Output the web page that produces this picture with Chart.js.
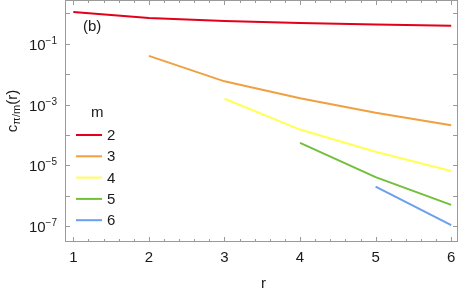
<!DOCTYPE html>
<html>
<head>
<meta charset="utf-8">
<script src="https://cdn.jsdelivr.net/npm/chart.js@4.4.1/dist/chart.umd.min.js"></script>
<style>
  html, body { margin: 0; padding: 0; background: #fff; }
  #wrap { width: 463px; height: 292px; }
</style>
</head>
<body>
<div id="wrap"><canvas id="chart" width="463" height="292"></canvas></div>
<script>
"use strict";

// --- Data ---
const mLabels = ['2', '3', '4', '5', '6'];
const rValues = [1, 2, 3, 4, 5, 6];
const seriesM2 = [1.1, 0.71, 0.56, 0.48, 0.43, 0.39];          // r = 1..6
const seriesM3 = [0.04, 0.0058, 0.0016, 5.4e-4, 2.1e-4];        // r = 2..6
const seriesM4 = [1.55e-3, 1.5e-4, 2.8e-5, 6.5e-6];             // r = 3..6
const seriesM5 = [5.5e-5, 4.1e-6, 5.0e-7];                      // r = 4..6
const seriesM6 = [2.0e-6, 1.07e-7];                             // r = 5..6
const xTicks = [1, 2, 3, 4, 5, 6];
const yDecades = [0, -1, -2, -3, -4, -5, -6, -7];
const yLabelled = [-1, -3, -5, -7];

const colors = ['#e2001a', '#f0a040', '#ffff55', '#72bf3a', '#6a9ff0'];
const FONT = '"Liberation Sans", Arial, sans-serif';
const TEXT = '#1a1a1a';

// pair each series with the r values it covers (all end at r = 6)
function toPoints(values) {
    const start = rValues.length - values.length;
    return values.map((v, i) => ({ x: rValues[start + i], y: v }));
}
const allSeries = [seriesM2, seriesM3, seriesM4, seriesM5, seriesM6];

// --- Custom drawing: frame, inward ticks, log labels, legend, annotations ---
const decorPlugin = {
    id: 'decor',
    afterDraw(chart) {
        const { ctx, chartArea: a, scales } = chart;
        const xs = scales.x, ys = scales.y;
        ctx.save();

        // frame
        ctx.strokeStyle = '#9a9a9a';
        ctx.lineWidth = 1;
        ctx.strokeRect(a.left + 0.5, a.top + 0.5, a.right - a.left - 1, a.bottom - a.top - 1);

        // x ticks (major + minor every 0.2), bottom and top, inward
        ctx.beginPath();
        for (let i = 0; i <= 30; i++) {
            const v = 0.8 + i * 0.2;
            if (v < xs.min || v > xs.max) continue;
            const px = Math.round(xs.getPixelForValue(v)) + 0.5;
            const major = Math.abs(v - Math.round(v)) < 1e-6;
            const len = major ? 5 : 3;
            ctx.moveTo(px, a.bottom); ctx.lineTo(px, a.bottom - len);
            ctx.moveTo(px, a.top); ctx.lineTo(px, a.top + len);
        }
        // y ticks at each decade, left and right
        yDecades.forEach(d => {
            const py = Math.round(ys.getPixelForValue(Math.pow(10, d))) + 0.5;
            ctx.moveTo(a.left, py); ctx.lineTo(a.left + 5, py);
            ctx.moveTo(a.right, py); ctx.lineTo(a.right - 5, py);
        });
        ctx.stroke();

        // y tick labels 10^n
        ctx.fillStyle = TEXT;
        ctx.textBaseline = 'alphabetic';
        yLabelled.forEach(d => {
            const py = ys.getPixelForValue(Math.pow(10, d));
            const exp = '\u2212' + Math.abs(d);
            ctx.font = '10px ' + FONT;
            const ew = ctx.measureText(exp).width;
            const xr = a.left - 8;
            ctx.textAlign = 'right';
            ctx.fillText(exp, xr, py);
            ctx.font = '15px ' + FONT;
            ctx.fillText('10', xr - ew, py + 6);
        });

        // x axis title
        ctx.font = '15px ' + FONT;
        ctx.textAlign = 'center';
        ctx.fillText('r', (a.left + a.right) / 2 + 2, 288);

        // y axis title c_{π/m}(r), rotated
        ctx.save();
        ctx.translate(17, 111);
        ctx.rotate(-Math.PI / 2);
        ctx.textAlign = 'left';
        ctx.font = '15px ' + FONT;
        const wc = ctx.measureText('c').width;
        ctx.font = '11px ' + FONT;
        const ws = ctx.measureText('\u03c0/m').width;
        ctx.font = '15px ' + FONT;
        const wr = ctx.measureText('(r)').width;
        const x0 = -(wc + ws + wr) / 2;
        ctx.fillText('c', x0, 0);
        ctx.font = '11px ' + FONT;
        ctx.fillText('\u03c0/m', x0 + wc, 3);
        ctx.font = '15px ' + FONT;
        ctx.fillText('(r)', x0 + wc + ws, 0);
        ctx.restore();

        // panel tag
        ctx.font = '15px ' + FONT;
        ctx.textAlign = 'left';
        ctx.fillText('(b)', 83, 31);

        // legend
        ctx.textBaseline = 'middle';
        ctx.fillText('m', 91, 113);
        chart.data.datasets.forEach((ds, i) => {
            const ly = 135 + i * 21.3;
            ctx.strokeStyle = ds.borderColor;
            ctx.lineWidth = 2;
            ctx.beginPath();
            ctx.moveTo(76, ly); ctx.lineTo(102, ly);
            ctx.stroke();
            ctx.fillStyle = TEXT;
            ctx.fillText(ds.label, 107, ly + 1);
        });

        ctx.restore();
    }
};

new Chart(document.getElementById('chart'), {
    type: 'line',
    data: {
        datasets: allSeries.map((s, i) => ({
            label: mLabels[i],
            data: toPoints(s),
            borderColor: colors[i],
            backgroundColor: colors[i],
            borderWidth: 2,
            pointRadius: 0,
            tension: 0,
            fill: false
        }))
    },
    options: {
        responsive: false,
        animation: false,
        events: [],
        layout: { padding: { top: 0, right: 5, left: 0, bottom: 0 } },
        plugins: { legend: { display: false }, tooltip: { enabled: false } },
        scales: {
            x: {
                type: 'linear',
                min: 0.89,
                max: 6.09,
                afterBuildTicks: scale => { scale.ticks = xTicks.map(v => ({ value: v })); },
                afterFit: scale => { scale.height = 50; },
                grid: { display: false, drawTicks: false },
                border: { display: false },
                ticks: {
                    color: TEXT,
                    font: { size: 15, family: FONT },
                    padding: 7,
                    maxRotation: 0,
                    callback: v => String(v)
                }
            },
            y: {
                type: 'logarithmic',
                min: Math.pow(10, -7.49),
                max: Math.pow(10, 0.44),
                afterFit: scale => { scale.width = 65; },
                grid: { display: false, drawTicks: false },
                border: { display: false },
                ticks: { display: false }
            }
        }
    },
    plugins: [decorPlugin]
});
</script>
</body>
</html>
